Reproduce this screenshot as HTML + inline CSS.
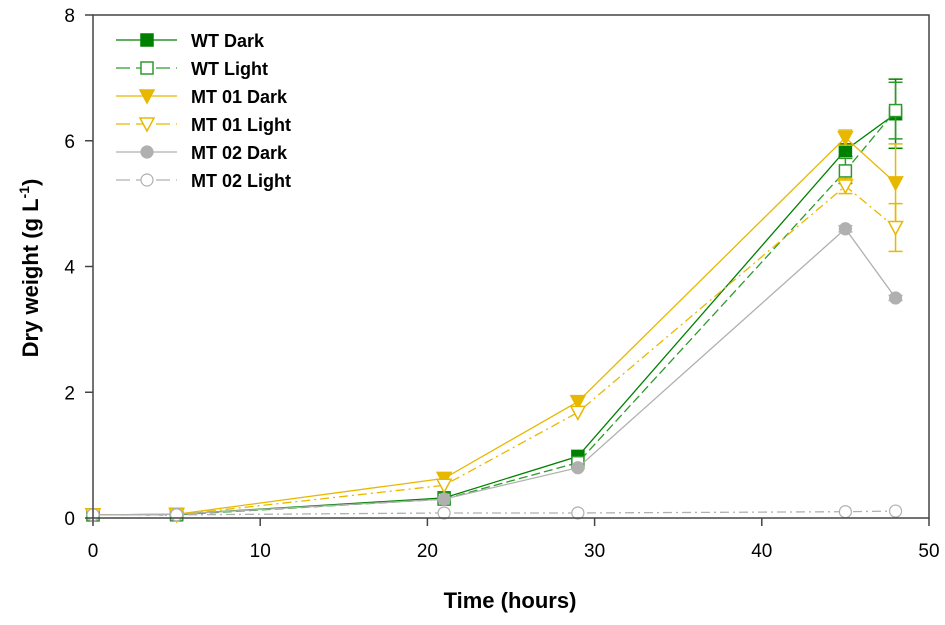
<!DOCTYPE html>
<html><head><meta charset="utf-8"><style>
body{margin:0;background:#fff}
svg{font-family:"Liberation Sans",Arial,sans-serif}
</style></head><body>
<svg id="chart" width="945" height="620" viewBox="0 0 945 620" xmlns="http://www.w3.org/2000/svg"></svg>
<script>
const times=[0,5,21,29,45,48];
const wtDark=[0.05,0.06,0.32,0.98,5.85,6.43];
const wtLight=[0.05,0.05,0.30,0.88,5.52,6.48];
const mt01Dark=[0.05,0.06,0.63,1.85,6.05,5.33];
const mt01Light=[0.05,0.05,0.52,1.68,5.28,4.62];
const mt02Dark=[0.05,0.06,0.30,0.80,4.60,3.50];
const mt02Light=[0.05,0.05,0.08,0.08,0.10,0.11];
const wtDarkErr=[0,0,0,0,0.1,0.55];
const wtLightErr=[0,0,0,0,0.2,0.45];
const mt01DarkErr=[0,0,0,0,0.12,0.62];
const mt01LightErr=[0,0,0,0,0.12,0.38];
const mt02DarkErr=[0,0,0,0,0.05,0.04];
const mt02LightErr=[0,0,0,0,0,0];
const xTicks=[0,10,20,30,40,50];
const yTicks=[0,2,4,6,8];
const seriesNames=["WT Dark","WT Light","MT 01 Dark","MT 01 Light","MT 02 Dark","MT 02 Light"];

const X0=93,X1=929,Y0=518,Y1=15;
const sx=v=>X0+(v-0)/(50-0)*(X1-X0);
const sy=v=>Y0-(v-0)/(8-0)*(Y0-Y1);
const svg=document.getElementById('chart');
const NS="http://www.w3.org/2000/svg";
function mk(tag,attrs,parent){const e=document.createElementNS(NS,tag);for(const k in attrs)e.setAttribute(k,attrs[k]);(parent||svg).appendChild(e);return e;}

const series=[
 {name:"wt-dark",vals:wtDark,err:wtDarkErr,color:"#008000",dash:"",marker:"square",fill:true},
 {name:"wt-light",vals:wtLight,err:wtLightErr,color:"#2e9a2e",dash:"9,4",marker:"square",fill:false},
 {name:"mt01-dark",vals:mt01Dark,err:mt01DarkErr,color:"#e8b800",dash:"",marker:"tri",fill:true},
 {name:"mt01-light",vals:mt01Light,err:mt01LightErr,color:"#e8b800",dash:"9,4,2,4",marker:"tri",fill:false},
 {name:"mt02-dark",vals:mt02Dark,err:mt02DarkErr,color:"#b0b0b0",dash:"",marker:"circle",fill:true},
 {name:"mt02-light",vals:mt02Light,err:mt02LightErr,color:"#b0b0b0",dash:"9,4,2,4",marker:"circle",fill:false}
];
function marker(s,x,y,g){
 const f=s.fill?s.color:"#fff";let e;
 if(s.marker==="square")e=mk('rect',{x:x-6,y:y-6,width:12,height:12,fill:f,stroke:s.color,'stroke-width':1.5},g);
 else if(s.marker==="tri")e=mk('polygon',{points:`${x-7},${y-6} ${x+7},${y-6} ${x},${y+7}`,fill:f,stroke:s.color,'stroke-width':1.5},g);
 else e=mk('circle',{cx:x,cy:y,r:6,fill:f,stroke:s.color,'stroke-width':1.2},g);
 return e;
}
series.forEach(s=>{
 const g=mk('g',{});
 
 
 const pts=times.map((t,i)=>sx(t)+','+sy(s.vals[i])).join(' ');
 const l=mk('polyline',{points:pts,fill:'none',stroke:s.color,'stroke-width':1.3,'stroke-dasharray':s.dash},g);
 
 
 times.forEach((t,i)=>{
  const e=s.err[i];
  if(e>0){const x=sx(t);
   mk('line',{x1:x,x2:x,y1:sy(s.vals[i]-e),y2:sy(s.vals[i]+e),stroke:s.color,'stroke-width':1.5},g);
   mk('line',{x1:x-7,x2:x+7,y1:sy(s.vals[i]+e),y2:sy(s.vals[i]+e),stroke:s.color,'stroke-width':1.5},g);
   mk('line',{x1:x-7,x2:x+7,y1:sy(s.vals[i]-e),y2:sy(s.vals[i]-e),stroke:s.color,'stroke-width':1.5},g);}
  const m=marker(s,sx(t),sy(s.vals[i]),g);
  
  
 });
});
const fr=mk('rect',{x:X0,y:Y1,width:X1-X0,height:Y0-Y1,fill:'none',stroke:'#444','stroke-width':1.5});


xTicks.forEach(v=>{
 mk('line',{x1:sx(v),x2:sx(v),y1:Y0,y2:Y0+8,stroke:'#444','stroke-width':1.5});
 const t=mk('text',{x:sx(v),y:Y0+39,'text-anchor':'middle','font-size':19});t.textContent=v;
 
 
});
yTicks.forEach(v=>{
 mk('line',{x1:X0-8,x2:X0,y1:sy(v),y2:sy(v),stroke:'#444','stroke-width':1.5});
 const t=mk('text',{x:X0-18,y:sy(v)+7,'text-anchor':'end','font-size':19});t.textContent=v;
 
 
});
const xt=mk('text',{x:510,y:608,'text-anchor':'middle','font-size':22,'font-weight':'bold'});xt.textContent="Time (hours)";


const yt=mk('text',{transform:'translate(38,268) rotate(-90)','text-anchor':'middle','font-size':22,'font-weight':'bold'});
yt.innerHTML='Dry weight (g L<tspan dy="-9" font-size="14">-1</tspan><tspan dy="9">)</tspan>';


series.forEach((s,i)=>{
 const g=mk('g',{});
 
 
 const y=40+i*28;
 mk('line',{x1:116,x2:177,y1:y,y2:y,stroke:s.color,'stroke-width':1.3,'stroke-dasharray':s.dash?'14,6':''},g);
 marker(s,147,y,g);
 const t=mk('text',{x:191,y:y+7,'font-size':18,'font-weight':'bold'},g);t.textContent=seriesNames[i];
});
</script>
</body></html>
